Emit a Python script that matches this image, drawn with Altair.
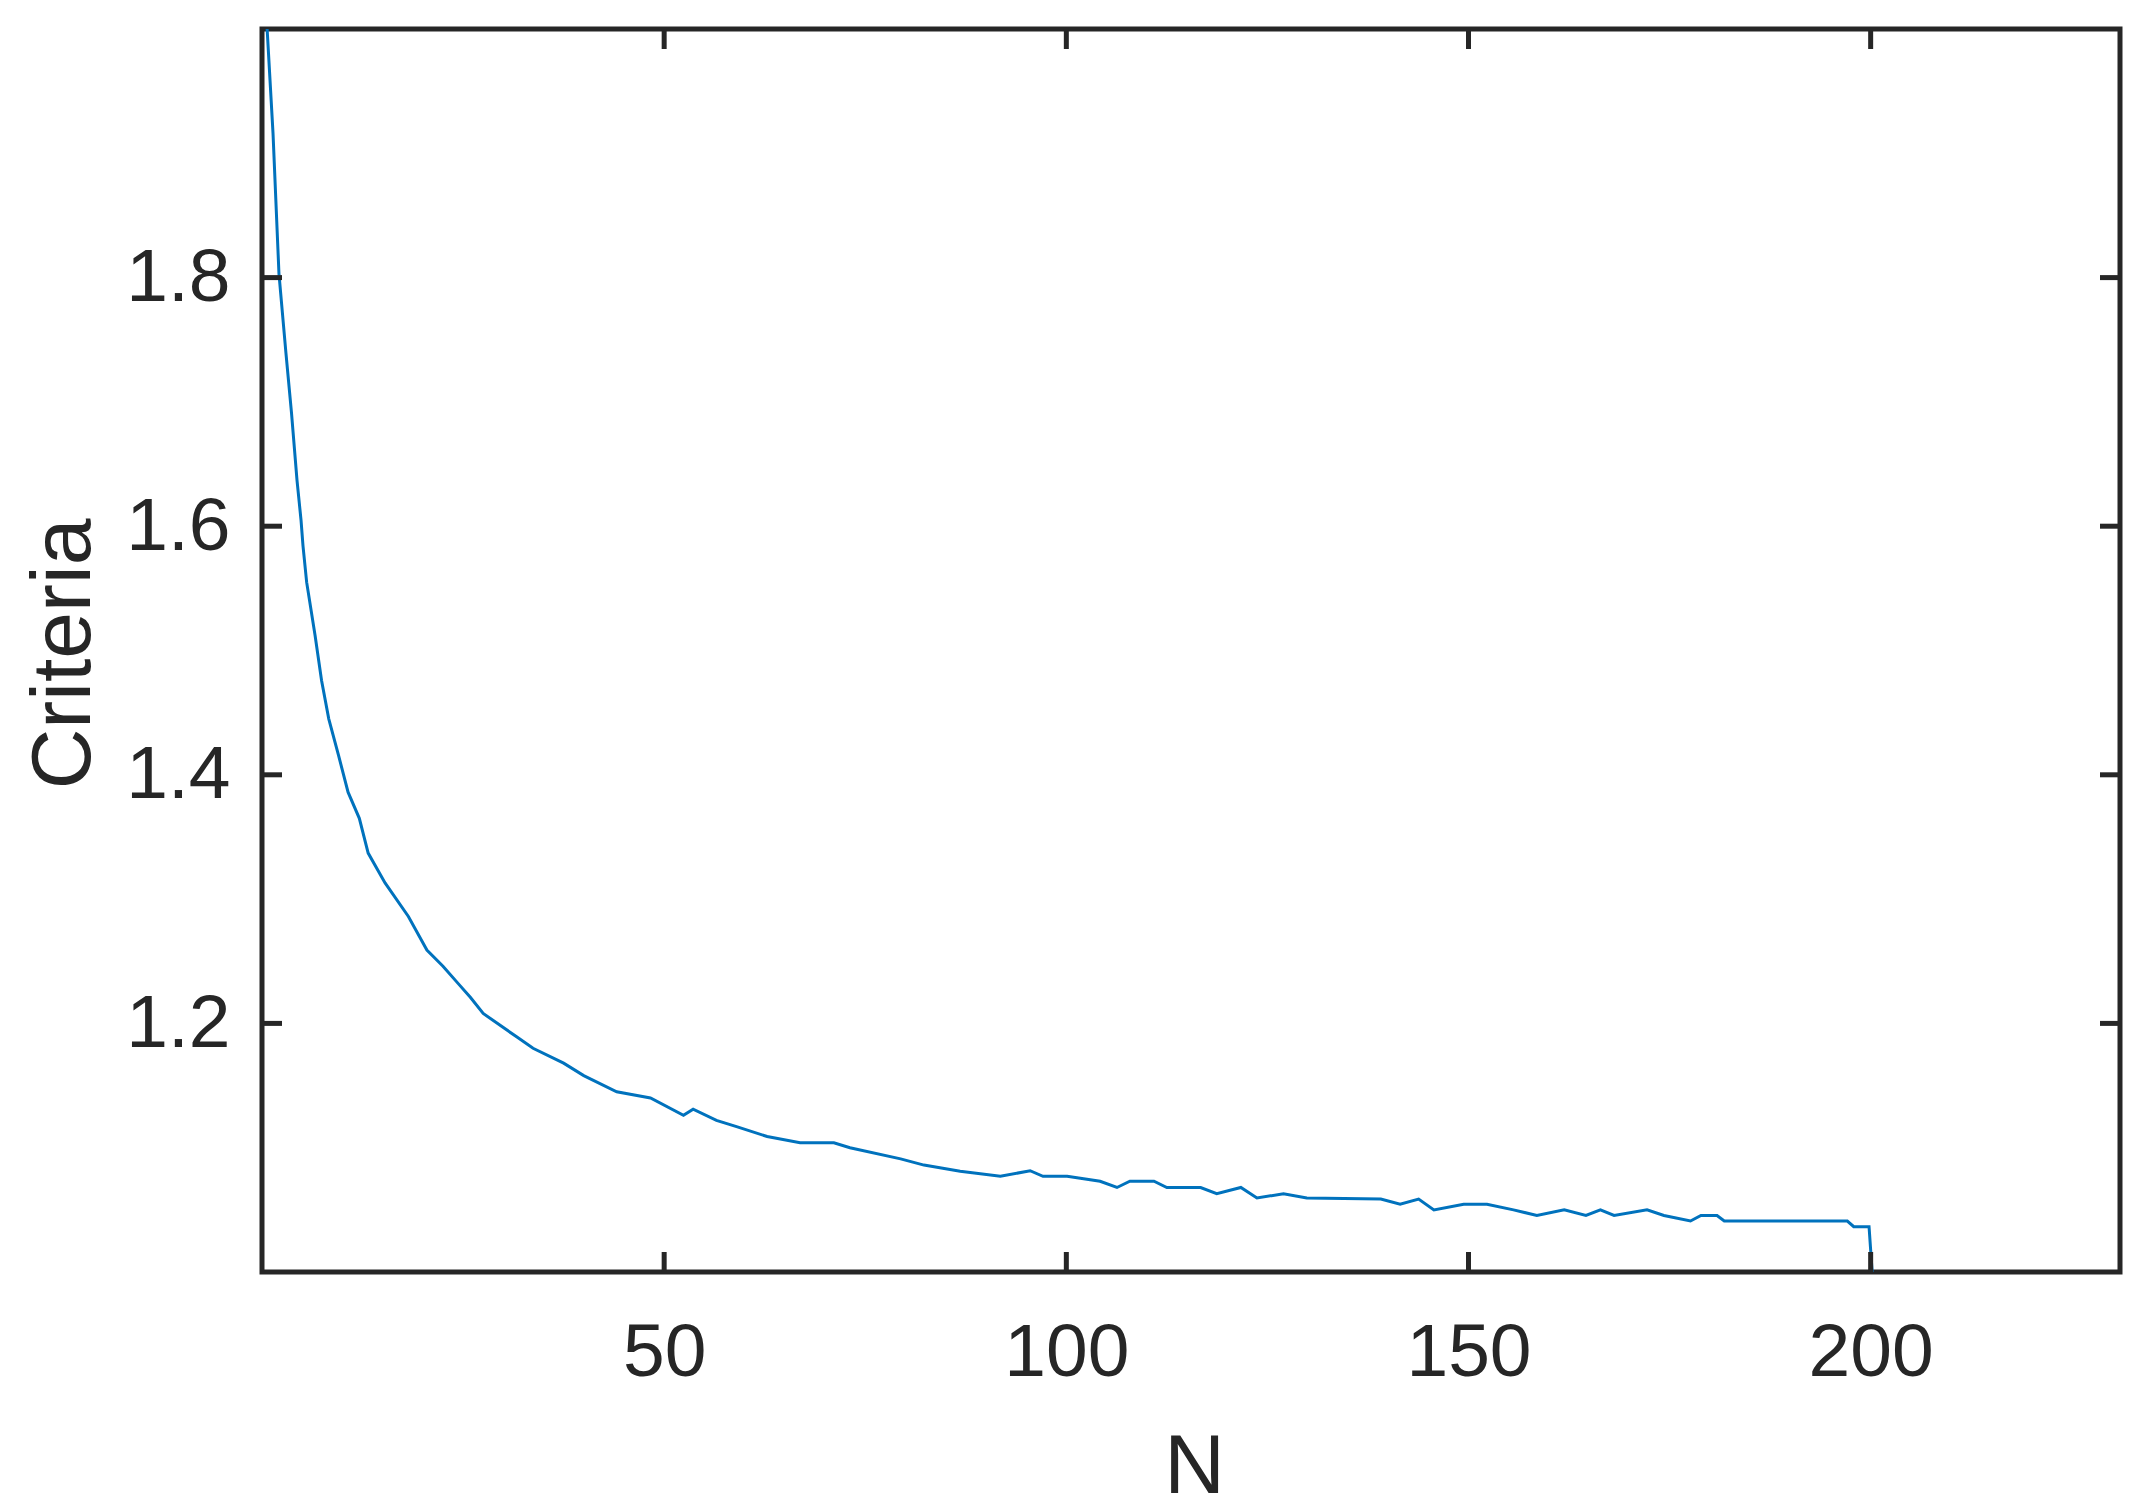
import altair as alt
import pandas as pd

# ---- data ----
N_vals = [0.55, 1.37, 2.11, 2.98, 3.67, 4.35, 4.85, 5.1, 5.55, 6.6, 7.4, 8.3, 9.5,
          10.7, 12.1, 13.2, 15.3, 18.2, 20.5, 22.5, 24.4, 25.9, 27.5, 31.7, 33.7,
          37.5, 40.0, 44.1, 48.3, 52.4, 53.6, 56.5, 59.0, 62.8, 66.9, 71.1, 73.1,
          79.4, 82.3, 86.8, 91.8, 95.5, 97.1, 100.1, 104.2, 106.3, 107.9, 110.9,
          112.5, 116.7, 118.7, 121.7, 123.7, 127.0, 129.9, 139.1, 141.5, 143.8,
          145.7, 149.4, 152.3, 155.6, 158.5, 161.9, 164.6, 166.4, 168.1, 172.2,
          174.3, 177.6, 178.9, 180.9, 181.8, 197.1, 197.9, 199.8, 200.4]
criteria_vals = [2.01, 1.916, 1.803, 1.739, 1.691, 1.637, 1.605, 1.584, 1.555, 1.512,
                 1.476, 1.445, 1.416, 1.386, 1.365, 1.337, 1.313, 1.286, 1.259, 1.246,
                 1.232, 1.221, 1.208, 1.189, 1.180, 1.168, 1.158, 1.145, 1.140, 1.126,
                 1.131, 1.122, 1.117, 1.109, 1.104, 1.104, 1.100, 1.091, 1.086, 1.081,
                 1.077, 1.0815, 1.077, 1.077, 1.073, 1.068, 1.073, 1.073, 1.068, 1.068,
                 1.063, 1.068, 1.0595, 1.063, 1.0595, 1.0587, 1.0545, 1.0587, 1.050,
                 1.0545, 1.0545, 1.050, 1.0455, 1.050, 1.0455, 1.050, 1.0455, 1.050,
                 1.0455, 1.041, 1.0455, 1.0455, 1.041, 1.041, 1.0365, 1.0365, 0.98]
x_ticks = [50, 100, 150, 200]
y_ticks = [1.2, 1.4, 1.6, 1.8]
x_domain = [0, 231]
y_domain = [1.0, 2.0]

# ---- layout / style ----
W, H = 1858, 1243
TICK = 20
TXT = "#262626"
FONT = "Liberation Sans"

df = pd.DataFrame({"N": N_vals, "Criteria": criteria_vals})
xt = pd.DataFrame({"N": x_ticks})
yt = pd.DataFrame({"Criteria": y_ticks})

xscale = alt.Scale(domain=x_domain, nice=False, zero=False)
yscale = alt.Scale(domain=y_domain, nice=False, zero=False)

x_axis = alt.Axis(values=x_ticks, title="N", grid=False, domain=False, ticks=False,
                  tickSize=0, labelFont=FONT, labelFontSize=75, labelColor=TXT,
                  labelBaseline="alphabetic", labelPadding=103, labelFlush=False,
                  labelOverlap=False, titleFont=FONT, titleFontSize=84,
                  titleFontWeight="normal", titleColor=TXT, titleBaseline="alphabetic",
                  titleX=932, titleY=220, titleAlign="center")
y_axis = alt.Axis(values=y_ticks, format=".1f", title="Criteria", grid=False,
                  domain=False, ticks=False, tickSize=0, labelFont=FONT,
                  labelFontSize=75, labelColor=TXT, labelAlign="right",
                  labelBaseline="middle", labelPadding=32, labelFlush=False,
                  labelOverlap=False, titleFont=FONT, titleFontSize=84,
                  titleFontWeight="normal", titleColor=TXT, titleBaseline="alphabetic",
                  titleAngle=270, titleX=-173, titleY=H / 2 + 3, titleAlign="center")

line = alt.Chart(df).mark_line(color="#0072BD", strokeWidth=3, clip=True).encode(
    x=alt.X("N:Q", scale=xscale, axis=x_axis),
    y=alt.Y("Criteria:Q", scale=yscale, axis=y_axis),
)

bottom_ticks = alt.Chart(xt).mark_rule(color=TXT, strokeWidth=5).encode(
    x=alt.X("N:Q", scale=xscale), y=alt.value(H), y2=alt.value(H - TICK))
top_ticks = alt.Chart(xt).mark_rule(color=TXT, strokeWidth=5).encode(
    x=alt.X("N:Q", scale=xscale), y=alt.value(0), y2=alt.value(TICK))
left_ticks = alt.Chart(yt).mark_rule(color=TXT, strokeWidth=5).encode(
    y=alt.Y("Criteria:Q", scale=yscale), x=alt.value(0), x2=alt.value(TICK))
right_ticks = alt.Chart(yt).mark_rule(color=TXT, strokeWidth=5).encode(
    y=alt.Y("Criteria:Q", scale=yscale), x=alt.value(W), x2=alt.value(W - TICK))

chart = alt.layer(line, bottom_ticks, top_ticks, left_ticks, right_ticks).properties(
    width=W, height=H,
    padding={"left": 254, "top": 21, "right": 12, "bottom": 237},
    autosize=alt.AutoSizeParams(type="none"),
    background="white",
).configure_view(stroke=TXT, strokeWidth=5)

chart.save("out.html", embed_options={"renderer": "svg", "actions": False})
